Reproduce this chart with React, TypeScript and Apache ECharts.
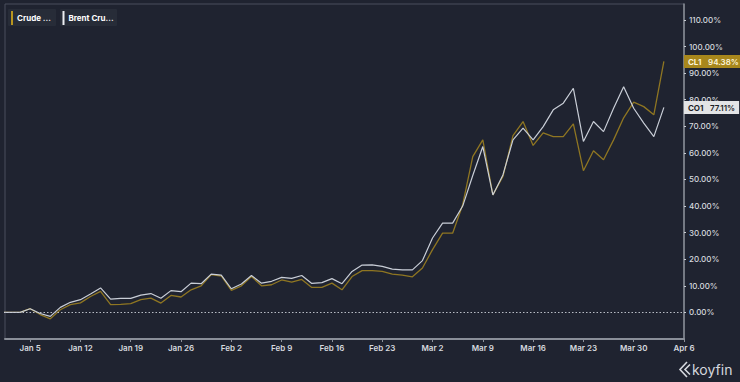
import React, { useEffect, useRef } from "react";
import * as echarts from "echarts";

// Trading days (business-day scale, weekends skipped)
const dates: string[] = [
  "2025-12-31", "2026-01-02",
  "2026-01-05", "2026-01-06", "2026-01-07", "2026-01-08", "2026-01-09",
  "2026-01-12", "2026-01-13", "2026-01-14", "2026-01-15", "2026-01-16",
  "2026-01-19", "2026-01-20", "2026-01-21", "2026-01-22", "2026-01-23",
  "2026-01-26", "2026-01-27", "2026-01-28", "2026-01-29", "2026-01-30",
  "2026-02-02", "2026-02-03", "2026-02-04", "2026-02-05", "2026-02-06",
  "2026-02-09", "2026-02-10", "2026-02-11", "2026-02-12", "2026-02-13",
  "2026-02-16", "2026-02-17", "2026-02-18", "2026-02-19", "2026-02-20",
  "2026-02-23", "2026-02-24", "2026-02-25", "2026-02-26", "2026-02-27",
  "2026-03-02", "2026-03-03", "2026-03-04", "2026-03-05", "2026-03-06",
  "2026-03-09", "2026-03-10", "2026-03-11", "2026-03-12", "2026-03-13",
  "2026-03-16", "2026-03-17", "2026-03-18", "2026-03-19", "2026-03-20",
  "2026-03-23", "2026-03-24", "2026-03-25", "2026-03-26", "2026-03-27",
  "2026-03-30", "2026-03-31", "2026-04-01", "2026-04-02",
];

// CL1 – Crude Oil WTI, % change
const crudeValues: number[] = [
  0, 0,
  1.4, -0.8, -2.4, 1.0, 2.9,
  3.6, 6.0, 7.9, 2.9, 3.0,
  3.3, 4.8, 5.4, 3.5, 6.4,
  5.8, 8.5, 10.0, 14.2, 13.7,
  8.3, 10.0, 13.5, 10.0, 10.4,
  12.2, 11.4, 12.4, 9.4, 9.4,
  11.0, 8.5, 13.5, 15.7, 15.7,
  15.4, 14.4, 14.0, 13.4, 16.7,
  23.6, 29.8, 29.8, 40.5, 58.6,
  64.9, 44.2, 51.1, 66.5, 71.8,
  62.8, 67.5, 66.1, 66.1, 70.9,
  53.3, 60.8, 57.4, 64.9, 73.2,
  79.1, 77.4, 74.3, 94.38,
];

// CO1 – Brent Crude, % change
const brentValues: number[] = [
  0, 0,
  1.4, -0.4, -1.5, 1.9, 3.8,
  4.8, 6.9, 9.2, 5.0, 5.3,
  5.3, 6.5, 7.1, 5.3, 8.2,
  7.8, 11.0, 10.8, 14.4, 14.0,
  8.9, 10.7, 13.9, 11.0, 11.7,
  13.2, 12.8, 13.9, 10.9, 11.2,
  12.7, 10.8, 15.4, 17.8, 17.9,
  17.3, 16.3, 16.0, 16.0, 19.5,
  28.0, 33.6, 33.6, 40.0, 51.5,
  62.4, 44.2, 51.7, 64.9, 69.3,
  64.9, 69.9, 76.2, 78.7, 84.3,
  64.3, 71.8, 68.0, 76.8, 84.9,
  76.8, 71.2, 66.1, 77.11,
];

const tickDates: string[] = [
  "2026-01-05", "2026-01-12", "2026-01-19", "2026-01-26", "2026-02-02",
  "2026-02-09", "2026-02-16", "2026-02-23", "2026-03-02", "2026-03-09",
  "2026-03-16", "2026-03-23", "2026-03-30", "2026-04-06",
];
const tickLabels: string[] = [
  "Jan 5", "Jan 12", "Jan 19", "Jan 26", "Feb 2", "Feb 9", "Feb 16",
  "Feb 23", "Mar 2", "Mar 9", "Mar 16", "Mar 23", "Mar 30", "Apr 6",
];
const yTicks: number[] = [0, 10, 20, 30, 40, 50, 60, 70, 80, 90, 100, 110];

const BASE = Date.UTC(2026, 0, 5); // Monday
function bizIndex(s: string): number {
  const [y, m, d] = s.split("-").map(Number);
  const days = Math.round((Date.UTC(y, m - 1, d) - BASE) / 86400000);
  const w = Math.floor(days / 7);
  const r = days - 7 * w;
  return 5 * w + Math.min(r, 4);
}

const FONT = "Inter, 'Noto Sans', sans-serif";
const BG = "#1f2330";
const GOLD_LINE = "#8f7622";
const GOLD = "#a8871c";
const WHITE_LINE = "#c9ced7";

export default function App() {
  const ref = useRef<HTMLDivElement>(null);
  useEffect(() => {
    if (!ref.current) return;
    document.body.style.margin = "0";
    document.body.style.background = BG;
    const chart = echarts.init(ref.current, undefined, { renderer: "svg" });
    const xs = dates.map(bizIndex);
    const tickIdx = tickDates.map(bizIndex);
    const crude = xs.map((x, i) => [x, crudeValues[i]]);
    const brent = xs.map((x, i) => [x, brentValues[i]]);
    const labelMap: Record<number, string> = {};
    tickIdx.forEach((t, i) => (labelMap[t] = tickLabels[i]));

    chart.setOption({
      animation: false,
      backgroundColor: BG,
      grid: {
        left: 5,
        right: 56,
        top: 4,
        bottom: 43,
        show: true,
        borderColor: "#4a4f5c",
        borderWidth: 1,
      },
      xAxis: {
        type: "value",
        min: -2.5,
        max: 65,
        axisLine: { show: true, onZero: false, lineStyle: { color: "#8a8f99", width: 2 } },
        axisTick: {
          show: true,
          customValues: tickIdx,
          length: 3,
          lineStyle: { color: "#8a8f99" },
        },
        axisLabel: {
          customValues: tickIdx,
          formatter: (v: number) => labelMap[Math.round(v)] ?? "",
          color: "#d6d9df",
          fontSize: 8,
          fontWeight: 600,
          fontFamily: FONT,
          margin: 5,
        },
        splitLine: { show: false },
      },
      yAxis: {
        type: "value",
        position: "right",
        min: -10,
        max: 116,
        axisLine: { show: true, onZero: false, lineStyle: { color: "#8a8f99", width: 1.5 } },
        axisTick: {
          show: true,
          customValues: yTicks,
          length: 2,
          lineStyle: { color: "#c8ccd3" },
        },
        axisLabel: {
          customValues: yTicks,
          formatter: (v: number) => v.toFixed(2) + "%",
          color: "#d6d9df",
          fontSize: 8,
          fontWeight: 500,
          fontFamily: FONT,
          margin: 5,
        },
        splitLine: { show: false },
      },
      series: [
        {
          name: "Brent Crude",
          type: "line",
          data: brent,
          showSymbol: false,
          symbol: "none",
          lineStyle: { color: WHITE_LINE, width: 1.2 },
          itemStyle: { color: WHITE_LINE },
          z: 3,
          markLine: {
            silent: true,
            symbol: "none",
            label: { show: false },
            lineStyle: { color: "#b8bcc5", type: [1.5, 2], width: 1 },
            data: [{ yAxis: 0 }],
          },
          endLabel: {
            show: true,
            distance: 20,
            formatter: (p: any) => "{a|CO1}  {b|" + p.value[1].toFixed(2) + "%}",
            backgroundColor: "#e3e4e6",
            padding: [1, 4, 0, 4],
            rich: {
              a: { color: "#1c1f27", fontSize: 8, fontWeight: 700, fontFamily: FONT },
              b: { color: "#1c1f27", fontSize: 8, fontWeight: 600, fontFamily: FONT },
            },
          },
        },
        {
          name: "Crude Oil WTI",
          type: "line",
          data: crude,
          showSymbol: false,
          symbol: "none",
          lineStyle: { color: GOLD_LINE, width: 1.3 },
          itemStyle: { color: GOLD_LINE },
          z: 2,
          endLabel: {
            show: true,
            distance: 20,
            formatter: (p: any) => "{a|CL1}  {b|" + p.value[1].toFixed(2) + "%}",
            backgroundColor: GOLD,
            padding: [1, 4, 0, 4],
            rich: {
              a: { color: "#fbf3d8", fontSize: 8, fontWeight: 700, fontFamily: FONT },
              b: { color: "#fbf3d8", fontSize: 8, fontWeight: 600, fontFamily: FONT },
            },
          },
        },
      ],
      graphic: [
        { type: "rect", shape: { x: 8, y: 9, width: 48, height: 17, r: 1 }, style: { fill: "#272c38" } },
        { type: "rect", shape: { x: 11, y: 11, width: 2, height: 14 }, style: { fill: "#b8951f" } },
        {
          type: "text", x: 17, y: 17.5,
          style: { text: "Crude ...", fill: "#ffffff", font: `700 8px ${FONT}`, verticalAlign: "middle" },
        },
        { type: "rect", shape: { x: 60, y: 9, width: 57, height: 17, r: 1 }, style: { fill: "#272c38" } },
        { type: "rect", shape: { x: 62.5, y: 11, width: 2, height: 14 }, style: { fill: "#eceef2" } },
        {
          type: "text", x: 68.5, y: 17.5,
          style: { text: "Brent Cru...", fill: "#ffffff", font: `700 8px ${FONT}`, verticalAlign: "middle" },
        },
        // koyfin logo
        {
          type: "polyline",
          shape: { points: [[687, 362], [680, 369.5], [687, 377]] },
          style: { stroke: "#d5d8de", lineWidth: 1.6, fill: null },
        },
        {
          type: "polyline",
          shape: { points: [[690, 364.5], [685, 369.5], [690, 374.5]] },
          style: { stroke: "#d5d8de", lineWidth: 1.6, fill: null },
        },
        {
          type: "text", x: 692, y: 369.5,
          style: { text: "koyfin", fill: "#d5d8de", font: `400 14px ${FONT}`, verticalAlign: "middle" },
        },
      ],
    });
    return () => chart.dispose();
  }, []);
  return (
    <div
      ref={ref}
      style={{ position: "fixed", left: 0, top: 0, width: 740, height: 382 }}
    />
  );
}
